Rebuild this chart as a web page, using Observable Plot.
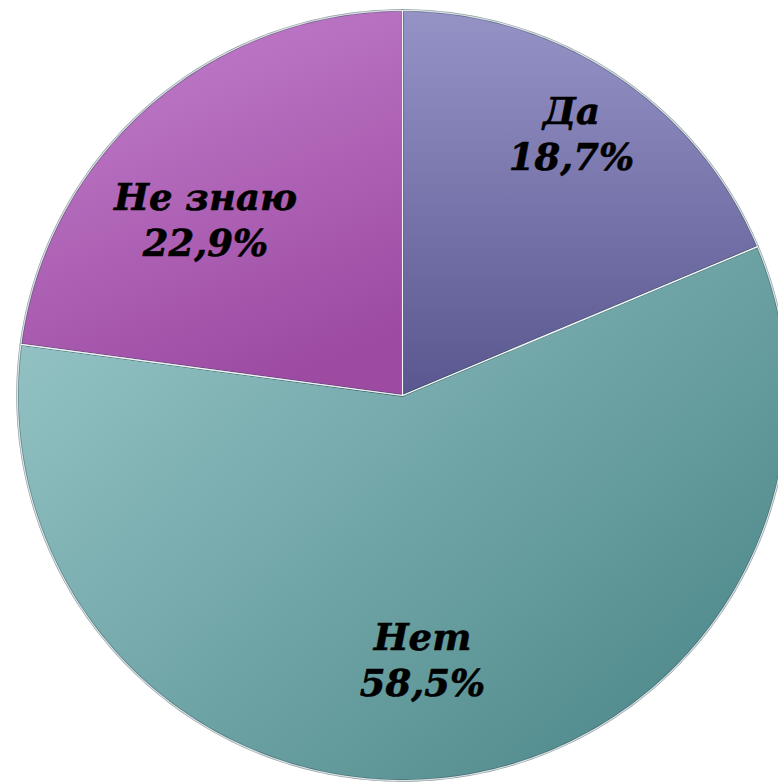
<!DOCTYPE html>
<html>
<head>
<meta charset="utf-8">
<script src="https://cdn.jsdelivr.net/npm/d3@7"></script>
<script src="https://cdn.jsdelivr.net/npm/@observablehq/plot@0.6"></script>
<style>
  html, body { margin: 0; padding: 0; background: #fff; overflow: hidden; }
</style>
</head>
<body>
<div id="chart"></div>
<script>
const categories = ["Да", "Нет", "Не знаю"];
const values = [18.7, 58.5, 22.9];
const valueLabels = ["18,7%", "58,5%", "22,9%"];

const gradientIds = ["gDa", "gNet", "gNz"];

const arcs = d3.pie().sort(null).value(d => d)(values);

const slices = arcs.map((a, i) => {
  const n = Math.max(2, Math.ceil((a.endAngle - a.startAngle) * 60));
  const pts = [{x: 0, y: 0}];
  for (let k = 0; k <= n; k++) {
    const t = a.startAngle + (a.endAngle - a.startAngle) * k / n;
    pts.push({x: Math.sin(t), y: Math.cos(t)});
  }
  return pts;
});

const labelR = [0.812, 0.685, 0.688];
const labelShift = [-0.016, 0.056, -0.120];
const labelData = arcs.map((a, i) => {
  const m = (a.startAngle + a.endAngle) / 2 + labelShift[i];
  return {
    x: labelR[i] * Math.sin(m),
    y: labelR[i] * Math.cos(m),
    text: categories[i] + "\n" + valueLabels[i]
  };
});

const chart = Plot.plot({
  width: 778,
  height: 783,
  margin: 0,
  x: {domain: [-1, 1], range: [17, 787], axis: null},
  y: {domain: [-1, 1], range: [780, 10], axis: null},
  marks: [
    ...slices.map((pts, i) => Plot.line(pts, {
      x: "x", y: "y",
      curve: "linear-closed",
      fill: `url(#${gradientIds[i]})`,
      stroke: "#2f4f5a",
      strokeWidth: 2.5,
      strokeOpacity: 0.55,
      strokeLinejoin: "round"
    })),
    ...slices.map((pts, i) => Plot.line(pts, {
      x: "x", y: "y",
      curve: "linear-closed",
      fill: "none",
      stroke: "#ffffff",
      strokeWidth: 1.2,
      strokeOpacity: 0.75,
      strokeLinejoin: "round"
    })),
    Plot.text(labelData, {
      x: "x", y: "y", text: "text",
      fontFamily: "DejaVu Serif",
      fontWeight: "bold",
      fontStyle: "italic",
      fontSize: 37,
      lineHeight: 1.25,
      fill: "#000",
      stroke: "#000",
      strokeWidth: 0.6
    })
  ]
});

const svg = d3.select(chart);
const defs = svg.insert("defs", ":first-child");
const grads = [
  {id: "gDa", x1: "0%", y1: "0%", x2: "0%", y2: "100%", stops: ["#9593c6", "#5a5790"]},
  {id: "gNet", x1: "0%", y1: "10%", x2: "100%", y2: "90%", stops: ["#95c4c6", "#4a8587"]},
  {id: "gNz", x1: "20%", y1: "0%", x2: "60%", y2: "100%", stops: ["#c27ecb", "#9c4aa2"]}
];
grads.forEach(g => {
  const lg = defs.append("linearGradient").attr("id", g.id)
    .attr("x1", g.x1).attr("y1", g.y1).attr("x2", g.x2).attr("y2", g.y2);
  lg.append("stop").attr("offset", "0%").attr("stop-color", g.stops[0]);
  lg.append("stop").attr("offset", "100%").attr("stop-color", g.stops[1]);
});

document.getElementById("chart").appendChild(chart);
</script>
</body>
</html>
